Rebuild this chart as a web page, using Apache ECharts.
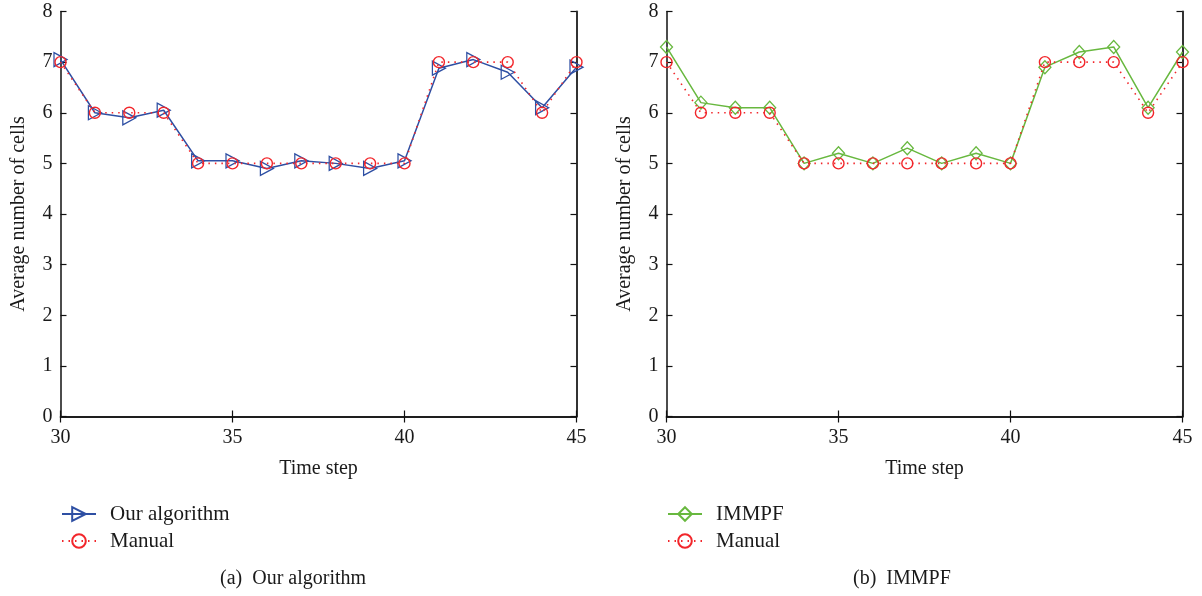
<!DOCTYPE html>
<html>
<head>
<meta charset="utf-8">
<script src="https://cdn.jsdelivr.net/npm/echarts@6/dist/echarts.min.js"></script>
<style>
html,body{margin:0;padding:0;background:#fff;}
#c{width:1202px;height:596px;}
</style>
</head>
<body>
<div id="c"></div>
<script>
const timeSteps = [30,31,32,33,34,35,36,37,38,39,40,41,42,43,44,45];
const ourAlgorithm = [7.05,6.0,5.9,6.05,5.05,5.05,4.9,5.05,5.0,4.9,5.05,6.88,7.05,6.8,6.1,6.9];
const manualA = [7,6,6,6,5,5,5,5,5,5,5,7,7,7,6,7];
const immpf = [7.3,6.2,6.1,6.1,5.0,5.2,5.0,5.3,5.0,5.2,5.0,6.9,7.2,7.3,6.1,7.2];
const manualB = [7,6,6,6,5,5,5,5,5,5,5,7,7,7,6,7];
const xTicks = [30,35,40,45];
const yTicks = [0,1,2,3,4,5,6,7,8];
const captions = ['(a)  Our algorithm','(b)  IMMPF'];

const FONT = '"Liberation Serif", "DejaVu Serif", serif';
const TXT = '#1a1a1a';
const BLUE = '#2e4fa3';
const GREEN = '#68b83f';
const RED = '#f2262b';

function pairs(xs, ys){ return xs.map((x,i)=>[x, ys[i]]); }

const grids = [
  {left:60.5, top:11.5, width:516, height:405},
  {left:666.5, top:11.5, width:516, height:405}
];

const xAxes = [], yAxes = [];
grids.forEach((g, gi) => {
  xAxes.push({
    gridIndex: gi, type:'value', min:xTicks[0], max:xTicks[xTicks.length-1], interval:5,
    position:'bottom',
    name:'Time step', nameLocation:'middle', nameGap:42,
    nameTextStyle:{fontFamily:FONT, fontSize:20, color:TXT},
    axisLine:{show:true, lineStyle:{color:'#111', width:1.5}},
    axisTick:{show:true, inside:true, length:6, lineStyle:{color:'#111', width:1.2}},
    axisLabel:{show:true, fontFamily:FONT, fontSize:20, color:TXT, margin:11},
    splitLine:{show:false}
  });
  xAxes.push({
    gridIndex: gi, type:'value', min:xTicks[0], max:xTicks[xTicks.length-1], interval:5,
    position:'top',
    axisLine:{show:true, lineStyle:{color:'#111', width:1.5}},
    axisTick:{show:true, inside:true, length:6, lineStyle:{color:'#111', width:1.2}},
    axisLabel:{show:false}, splitLine:{show:false}
  });
  yAxes.push({
    gridIndex: gi, type:'value', min:yTicks[0], max:yTicks[yTicks.length-1], interval:1,
    position:'left',
    name:'Average number of cells', nameLocation:'middle', nameGap:32, nameRotate:90,
    nameTextStyle:{fontFamily:FONT, fontSize:20, color:TXT},
    axisLine:{show:true, lineStyle:{color:'#111', width:1.5}},
    axisTick:{show:true, inside:true, length:6, lineStyle:{color:'#111', width:1.2}},
    axisLabel:{show:true, fontFamily:FONT, fontSize:20, color:TXT, margin:8},
    splitLine:{show:false}
  });
  yAxes.push({
    gridIndex: gi, type:'value', min:yTicks[0], max:yTicks[yTicks.length-1], interval:1,
    position:'right',
    axisLine:{show:true, lineStyle:{color:'#333', width:2}},
    axisTick:{show:true, inside:true, length:6, lineStyle:{color:'#111', width:1.2}},
    axisLabel:{show:false}, splitLine:{show:false}
  });
});

const TRI = 'path://M0,0 L10,5 L0,10 Z';

const series = [
  {
    name:'Our algorithm', type:'line', xAxisIndex:0, yAxisIndex:0,
    data: pairs(timeSteps, ourAlgorithm),
    symbol: TRI, symbolSize:[13,14], showAllSymbol:true,
    lineStyle:{color:BLUE, width:1.5},
    itemStyle:{color:'rgba(255,255,255,0)', borderColor:BLUE, borderWidth:1.3},
    z:2
  },
  {
    name:'Manual', type:'line', xAxisIndex:0, yAxisIndex:0,
    data: pairs(timeSteps, manualA),
    symbol:'circle', symbolSize:11, showAllSymbol:true,
    lineStyle:{color:RED, width:1.6, type:[1.5,5]},
    itemStyle:{color:'rgba(255,255,255,0)', borderColor:RED, borderWidth:1.4},
    z:3
  },
  {
    name:'IMMPF', type:'line', xAxisIndex:2, yAxisIndex:2,
    data: pairs(timeSteps, immpf),
    symbol:'diamond', symbolSize:[12,13], showAllSymbol:true,
    lineStyle:{color:GREEN, width:1.5},
    itemStyle:{color:'rgba(255,255,255,0)', borderColor:GREEN, borderWidth:1.3},
    z:2
  },
  {
    name:'Manual ', type:'line', xAxisIndex:2, yAxisIndex:2,
    data: pairs(timeSteps, manualB),
    symbol:'circle', symbolSize:11, showAllSymbol:true,
    lineStyle:{color:RED, width:1.6, type:[1.5,5]},
    itemStyle:{color:'rgba(255,255,255,0)', borderColor:RED, borderWidth:1.4},
    z:3
  }
];

const legendCommon = {
  orient:'vertical', itemWidth:34, itemHeight:17, itemGap:5, padding:0,
  textStyle:{fontFamily:FONT, fontSize:21, color:TXT, lineHeight:22, padding:[0,0,0,9]},
  selectedMode:false
};

const option = {
  animation:false,
  backgroundColor:'#fff',
  grid: grids.map(g => Object.assign({containLabel:false}, g)),
  xAxis: xAxes,
  yAxis: yAxes,
  legend: [
    Object.assign({}, legendCommon, {left:61, top:503, data:['Our algorithm','Manual']}),
    Object.assign({}, legendCommon, {left:667, top:503, data:['IMMPF',{name:'Manual '}],
      formatter: n => n.trim()})
  ],
  graphic: [
    {type:'text', left:220, top:569, style:{text:captions[0], font:'20px '+FONT, fill:TXT}},
    {type:'text', left:853, top:569, style:{text:captions[1], font:'20px '+FONT, fill:TXT}}
  ],
  series: series
};

const chart = echarts.init(document.getElementById('c'), null, {renderer:'canvas'});
chart.setOption(option);
</script>
</body>
</html>
